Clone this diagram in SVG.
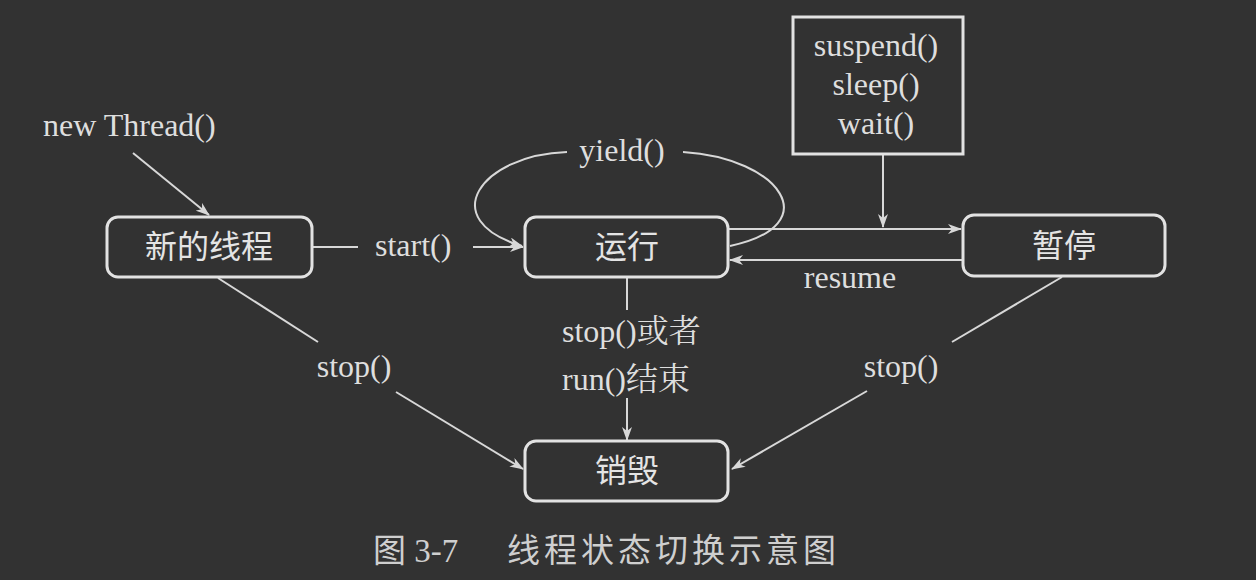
<svg xmlns="http://www.w3.org/2000/svg" width="1256" height="580" viewBox="0 0 1256 580">
<style>
.bg{fill:#323232}
.box{fill:none;stroke:#e2e2e2;stroke-width:3}
.ln{fill:none;stroke:#d8d8d8;stroke-width:2}
.en{font-family:"Liberation Serif","DejaVu Serif",serif;font-size:32px;fill:#dedede}
.zh{font-family:"Noto Sans CJK SC","Noto Sans CJK JP",sans-serif;font-size:32px;fill:#e4e4e4}
.mix{font-family:"Liberation Serif","Noto Serif CJK SC","Noto Sans CJK SC",serif;font-size:32px;fill:#dedede}
.cap{font-family:"Liberation Serif","Noto Sans CJK SC",sans-serif;font-size:33px;fill:#cfcfcf}
</style>
<defs>
<marker id="ah" viewBox="0 0 14 10" refX="13" refY="5" markerWidth="14" markerHeight="10" markerUnits="userSpaceOnUse" orient="auto">
<path d="M0,0 L14,5 L0,10 L4,5 Z" fill="#d8d8d8"/>
</marker>
</defs>
<rect class="bg" x="0" y="0" width="1256" height="580"/>

<g id="connectors">
<line class="ln" x1="133" y1="153" x2="209" y2="215" marker-end="url(#ah)"/>
<line class="ln" x1="312" y1="247" x2="358" y2="247"/>
<line class="ln" x1="473" y1="247" x2="523" y2="247" marker-end="url(#ah)"/>
<path class="ln" d="M567,152 C480,155 435,220 522,246" marker-end="url(#ah)"/>
<path class="ln" d="M683,152 C780,158 828,225 730,246"/>
<line class="ln" x1="728" y1="229" x2="961" y2="229" marker-end="url(#ah)"/>
<line class="ln" x1="883" y1="154" x2="883" y2="227" marker-end="url(#ah)"/>
<line class="ln" x1="963" y1="260" x2="730" y2="260" marker-end="url(#ah)"/>
<line class="ln" x1="627" y1="277" x2="627" y2="310"/>
<line class="ln" x1="627" y1="398" x2="627" y2="440" marker-end="url(#ah)"/>
<line class="ln" x1="218" y1="278" x2="318" y2="342"/>
<line class="ln" x1="396" y1="392" x2="523" y2="469" marker-end="url(#ah)"/>
<line class="ln" x1="1062" y1="277" x2="952" y2="342"/>
<line class="ln" x1="867" y1="391" x2="732" y2="469" marker-end="url(#ah)"/>
</g>

<g id="label-new">
<text class="en" x="43" y="136">new Thread()</text>
</g>
<g id="label-start">
<text class="en" x="375" y="256">start()</text>
</g>
<g id="label-yield">
<text class="en" x="622" y="161" text-anchor="middle">yield()</text>
</g>
<g id="label-resume">
<text class="en" x="850" y="288" text-anchor="middle">resume</text>
</g>
<g id="label-stop-left">
<text class="en" x="354" y="377" text-anchor="middle">stop()</text>
</g>
<g id="label-stop-right">
<text class="en" x="901" y="377" text-anchor="middle">stop()</text>
</g>
<g id="label-stop-center">
<text class="mix" x="562" y="342">stop()或者</text>
<text class="mix" x="562" y="390">run()结束</text>
</g>

<g id="node-methods">
<rect class="box" x="793" y="17" width="170" height="137"/>
<text class="en" x="876" y="56" text-anchor="middle">suspend()</text>
<text class="en" x="876" y="95" text-anchor="middle">sleep()</text>
<text class="en" x="876" y="134" text-anchor="middle">wait()</text>
</g>

<g id="node-new">
<rect class="box" x="107" y="217" width="205" height="60" rx="11"/>
<text class="zh" x="209" y="258" text-anchor="middle">新的线程</text>
</g>
<g id="node-running">
<rect class="box" x="525" y="217" width="203" height="60" rx="11"/>
<text class="zh" x="627" y="258" text-anchor="middle">运行</text>
</g>
<g id="node-paused">
<rect class="box" x="963" y="215" width="202" height="61" rx="11"/>
<text class="zh" x="1064" y="257" text-anchor="middle">暂停</text>
</g>
<g id="node-dead">
<rect class="box" x="525" y="441" width="203" height="60" rx="11"/>
<text class="zh" x="627" y="482" text-anchor="middle">销毁</text>
</g>

<g id="caption">
<text class="cap" x="373" y="562">图 3-7</text>
<text class="cap" x="507" y="562" letter-spacing="4">线程状态切换示意图</text>
</g>
</svg>
